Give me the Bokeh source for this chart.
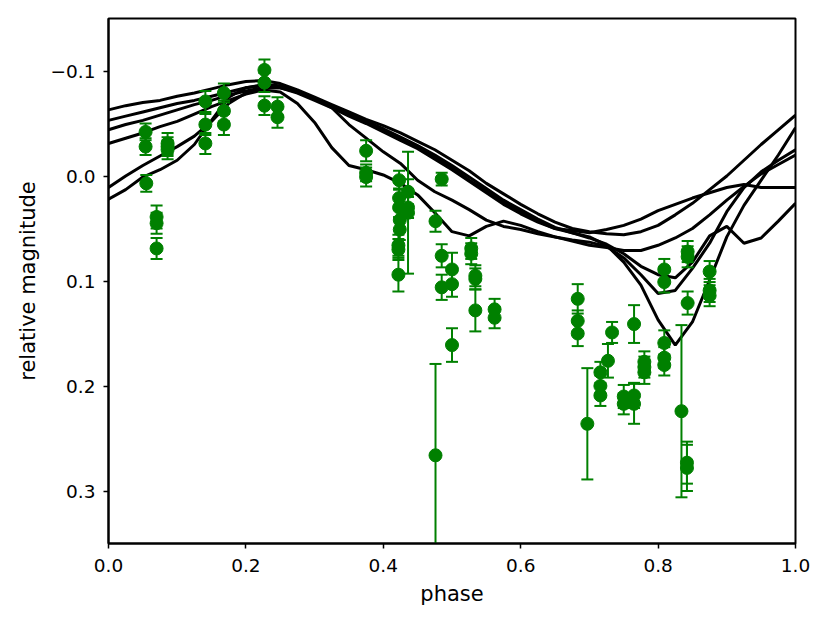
from bokeh.plotting import figure
from bokeh.models import Range1d, FixedTicker, CustomJSTickFormatter, ColumnDataSource
from bokeh.embed import file_html
from bokeh.resources import INLINE

# model lightcurves, sampled on a common phase grid
phase_grid = [0.0, 0.025, 0.05, 0.075, 0.1, 0.125, 0.15, 0.175, 0.2, 0.225,
              0.25, 0.275, 0.3, 0.325, 0.35, 0.375, 0.4, 0.425, 0.45, 0.475,
              0.5, 0.525, 0.55, 0.575, 0.6, 0.625, 0.65, 0.675, 0.7, 0.725,
              0.75, 0.775, 0.8, 0.825, 0.85, 0.875, 0.9, 0.925, 0.95, 0.975, 1.0]

model_1 = [-0.063, -0.067, -0.070, -0.072, -0.076, -0.079, -0.083, -0.087, -0.090, -0.091,
           -0.088, -0.082, -0.075, -0.068, -0.061, -0.054, -0.048, -0.041, -0.033, -0.025,
           -0.015, -0.005, 0.007, 0.017, 0.027, 0.036, 0.044, 0.050, 0.053, 0.055,
           0.056, 0.053, 0.047, 0.037, 0.026, 0.013, 0.000, -0.015, -0.030, -0.044, -0.058]

model_2 = [-0.053, -0.057, -0.061, -0.065, -0.069, -0.072, -0.076, -0.080, -0.084, -0.087,
           -0.086, -0.081, -0.073, -0.066, -0.058, -0.051, -0.043, -0.035, -0.028, -0.018,
           -0.008, 0.004, 0.014, 0.025, 0.034, 0.043, 0.050, 0.054, 0.058, 0.066,
           0.082, 0.104, 0.137, 0.161, 0.139, 0.099, 0.058, 0.028, 0.004, -0.020, -0.046]

model_3 = [-0.044, -0.049, -0.053, -0.058, -0.063, -0.068, -0.072, -0.077, -0.081, -0.084,
           -0.084, -0.080, -0.074, -0.065, -0.049, -0.036, -0.023, -0.012, 0.004, 0.015,
           0.023, 0.032, 0.042, 0.048, 0.051, 0.055, 0.058, 0.061, 0.063, 0.067,
           0.078, 0.094, 0.112, 0.109, 0.088, 0.064, 0.034, 0.011, -0.004, -0.015, -0.025]

model_4 = [-0.031, -0.036, -0.041, -0.047, -0.052, -0.059, -0.066, -0.072, -0.078, -0.082,
           -0.080, -0.069, -0.051, -0.027, -0.010, -0.006, -0.001, 0.007, 0.018, 0.035,
           0.053, 0.057, 0.048, 0.043, 0.047, 0.053, 0.058, 0.062, 0.066, 0.068,
           0.071, 0.071, 0.066, 0.059, 0.050, 0.037, 0.023, 0.010, -0.002, -0.011, -0.020]

model_5 = [0.011, 0.000, -0.010, -0.019, -0.028, -0.038, -0.052, -0.069, -0.079, -0.084,
           -0.084, -0.079, -0.072, -0.065, -0.057, -0.050, -0.042, -0.034, -0.026, -0.016,
           -0.006, 0.005, 0.016, 0.027, 0.036, 0.044, 0.050, 0.052, 0.054, 0.051,
           0.047, 0.041, 0.033, 0.027, 0.021, 0.016, 0.011, 0.008, 0.011, 0.011, 0.011]

model_6 = [0.022, 0.013, 0.001, -0.006, -0.015, -0.030, -0.053, -0.075, -0.084, -0.086,
           -0.085, -0.080, -0.073, -0.067, -0.059, -0.052, -0.045, -0.037, -0.029, -0.020,
           -0.010, 0.001, 0.012, 0.023, 0.032, 0.041, 0.049, 0.054, 0.059, 0.065,
           0.074, 0.086, 0.094, 0.097, 0.082, 0.057, 0.048, 0.064, 0.059, 0.043, 0.026]

models = [model_1, model_2, model_3, model_4, model_5, model_6]

# observed photometry
obs_phase = [0.054, 0.054, 0.055, 0.070, 0.070, 0.070, 0.086, 0.086, 0.086,
             0.141, 0.141, 0.141, 0.168, 0.168, 0.168, 0.227, 0.227, 0.227,
             0.246, 0.246, 0.375, 0.375, 0.375,
             0.423, 0.423, 0.423, 0.424, 0.424, 0.422, 0.422, 0.422,
             0.436, 0.436, 0.436, 0.476, 0.476, 0.485, 0.485, 0.485,
             0.500, 0.500, 0.500, 0.528, 0.528, 0.534, 0.534, 0.534,
             0.562, 0.562, 0.683, 0.683, 0.683, 0.697,
             0.716, 0.716, 0.716, 0.727, 0.733, 0.750, 0.750,
             0.765, 0.765, 0.765, 0.780, 0.780, 0.780,
             0.809, 0.809, 0.809, 0.809, 0.809, 0.834,
             0.843, 0.843, 0.843, 0.842, 0.842, 0.875, 0.875, 0.875]
obs_mag = [-0.042, -0.028, 0.007, 0.039, 0.045, 0.069, -0.031, -0.028, -0.025,
           -0.071, -0.049, -0.031, -0.079, -0.062, -0.049, -0.101, -0.089, -0.067,
           -0.066, -0.056, -0.024, -0.003, 0.001,
           0.004, 0.021, 0.030, 0.042, 0.051, 0.066, 0.070, 0.094,
           0.015, 0.030, 0.035, 0.043, 0.266, 0.003, 0.076, 0.106,
           0.089, 0.103, 0.161, 0.069, 0.074, 0.095, 0.098, 0.128,
           0.127, 0.135, 0.117, 0.138, 0.150, 0.236,
           0.187, 0.200, 0.209, 0.176, 0.149, 0.210, 0.217,
           0.141, 0.209, 0.217, 0.177, 0.182, 0.187,
           0.089, 0.101, 0.159, 0.173, 0.180, 0.224,
           0.072, 0.077, 0.121, 0.273, 0.278, 0.091, 0.109, 0.114]
obs_err = [0.008, 0.008, 0.008, 0.011, 0.010, 0.010, 0.010, 0.009, 0.009,
           0.010, 0.010, 0.010, 0.009, 0.010, 0.010, 0.010, 0.009, 0.009,
           0.009, 0.010, 0.010, 0.008, 0.009,
           0.009, 0.009, 0.009, 0.010, 0.010, 0.010, 0.010, 0.016,
           0.012, 0.010, 0.058, 0.010, 0.087, 0.006, 0.011, 0.012,
           0.016, 0.012, 0.016, 0.010, 0.010, 0.010, 0.010, 0.020,
           0.010, 0.010, 0.014, 0.010, 0.012, 0.053,
           0.010, 0.010, 0.010, 0.016, 0.010, 0.011, 0.010,
           0.018, 0.012, 0.019, 0.010, 0.010, 0.011,
           0.010, 0.010, 0.012, 0.010, 0.010, 0.082,
           0.010, 0.010, 0.011, 0.020, 0.022, 0.010, 0.011, 0.010]

x_ticks = [0.0, 0.2, 0.4, 0.6, 0.8, 1.0]
y_ticks = [-0.1, 0.0, 0.1, 0.2, 0.3]

FONT = "DejaVu Sans"

p = figure(frame_width=687, frame_height=525,
           min_border_left=108, min_border_right=27,
           min_border_top=18, min_border_bottom=72,
           x_range=Range1d(0.0, 1.0), y_range=Range1d(0.35, -0.15),
           output_backend="svg", toolbar_location=None,
           background_fill_color="white", border_fill_color="white")

p.xgrid.visible = False
p.ygrid.visible = False
p.outline_line_color = "black"
p.outline_line_width = 2
p.outline_line_alpha = 1.0

fmt = CustomJSTickFormatter(code="return tick.toFixed(1).replace('-', '\\u2212');")
p.xaxis.ticker = FixedTicker(ticks=x_ticks)
p.yaxis.ticker = FixedTicker(ticks=y_ticks)
for ax in (p.xaxis[0], p.yaxis[0]):
    ax.formatter = fmt
    ax.axis_line_color = "black"
    ax.axis_line_width = 2
    ax.major_tick_in = 0
    ax.major_tick_out = 5
    ax.major_tick_line_width = 1.5
    ax.major_tick_line_color = "black"
    ax.minor_tick_line_color = None
    ax.major_label_text_font = FONT
    ax.major_label_text_font_size = "18.5px"
    ax.major_label_text_color = "black"
    ax.axis_label_text_font = FONT
    ax.axis_label_text_font_size = "21px"
    ax.axis_label_text_font_style = "normal"
    ax.axis_label_text_color = "black"

p.xaxis.axis_label = "phase"
p.yaxis.axis_label = "relative magnitude"
p.xaxis.major_label_standoff = 10
p.xaxis.axis_label_standoff = 7
p.yaxis.major_label_standoff = 8
p.yaxis.axis_label_standoff = 8

for m in models:
    p.line(phase_grid, m, line_color="black", line_width=3)

lower = [m + e for m, e in zip(obs_mag, obs_err)]
upper = [m - e for m, e in zip(obs_mag, obs_err)]
src = ColumnDataSource(dict(x=obs_phase, y=obs_mag, lo=lower, hi=upper))

GREEN = "#008000"
p.segment(x0="x", y0="lo", x1="x", y1="hi", source=src, line_color=GREEN, line_width=2)
p.scatter(x="x", y="lo", source=src, marker="dash", size=12, line_color=GREEN, line_width=2)
p.scatter(x="x", y="hi", source=src, marker="dash", size=12, line_color=GREEN, line_width=2)
p.scatter(x="x", y="y", source=src, marker="circle", size=13,
          fill_color=GREEN, line_color=GREEN)

open("out.html", "w").write(file_html(p, INLINE))
